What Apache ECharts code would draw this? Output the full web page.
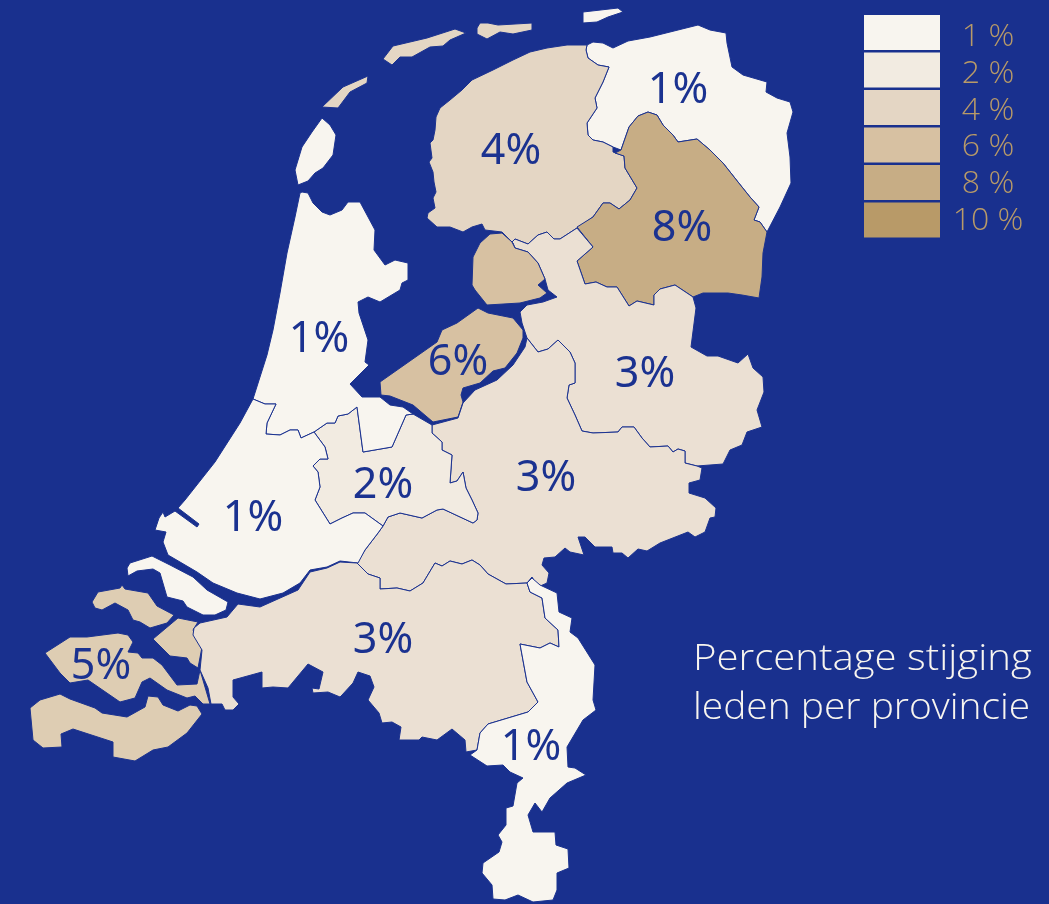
<!DOCTYPE html>
<html>
<head>
<meta charset="utf-8">
<title>Percentage stijging leden per provincie</title>
<script src="https://cdn.jsdelivr.net/npm/echarts@6/dist/echarts.min.js"></script>
<style>
  html, body { margin: 0; padding: 0; background: #19308e; }
  #chart { width: 1049px; height: 904px; }
</style>
</head>
<body>
<div id="chart"></div>
<script>
// waarden per provincie
var provinces = ['Groningen', 'Friesland', 'Drenthe', 'Overijssel', 'Flevoland', 'Gelderland', 'Utrecht', 'Noord-Holland', 'Zuid-Holland', 'Zeeland', 'Noord-Brabant', 'Limburg'];
var increase = [1, 4, 8, 3, 6, 3, 2, 1, 1, 5, 3, 1];

// legenda
var legendValues = [1, 2, 4, 6, 8, 10];
var legendColors = ['#f8f5ef', '#f2ebe1', '#e4d6c4', '#d7c1a2', '#c7ad85', '#b89a68'];

// tussenliggende klassen die wel op de kaart staan, niet in de legenda
var extraValues = [3, 5];
var extraColors = ['#ebe0d3', '#decdb3'];

var titleLines = ['Percentage stijging', 'leden per provincie'];

var bgColor = '#19308e';
var inkColor = '#1b3290';
var legendTextColor = '#b89a68';

// kaartvormen, in de coordinaten van het plaatje (1049x904)
var outlines = {
  'Groningen': [
    [[587,45],[593,42],[603,43],[613,48],[628,41],[650,37],[670,32],[698,25],[710,30],[726,33],[727,43],[732,67],[743,75],[767,82],[766,92],[777,98],[790,102],[793,112],[787,133],[790,157],[791,183],[780,207],[767,232],[760,222],[754,220],[759,207],[750,197],[738,182],[723,163],[710,150],[697,139],[678,142],[673,135],[663,125],[657,115],[648,112],[638,116],[629,127],[621,150],[613,147],[603,142],[593,140],[588,135],[587,123],[597,108],[595,98],[603,82],[609,67],[598,65],[588,58],[586,50]],
    [[583,12],[618,8],[623,12],[608,17],[597,22],[583,23]]
  ],
  'Friesland': [
    [[587,45],[567,45],[547,48],[530,52],[513,60],[493,70],[472,80],[462,90],[450,100],[440,108],[436,117],[435,130],[433,140],[430,143],[432,158],[429,162],[433,172],[434,182],[436,192],[433,198],[435,208],[428,213],[427,218],[437,227],[450,227],[463,232],[472,227],[482,224],[485,230],[502,232],[512,242],[515,239],[528,244],[538,235],[547,232],[554,239],[560,239],[577,228],[593,217],[603,203],[610,203],[619,209],[630,200],[637,188],[625,168],[624,156],[613,152],[613,147],[603,142],[593,140],[588,135],[587,123],[597,108],[595,98],[603,82],[609,67],[598,65],[588,58],[586,50]],
    [[368,76],[367,83],[350,92],[338,108],[322,107],[343,87]],
    [[455,29],[466,33],[450,40],[443,46],[430,47],[412,57],[400,57],[392,65],[383,59],[393,46],[427,38]],
    [[477,28],[480,23],[488,23],[498,25],[532,23],[532,30],[513,34],[500,32],[487,39],[477,34]]
  ],
  'Drenthe': [
    [[621,150],[629,127],[638,116],[648,112],[657,115],[663,125],[673,135],[678,142],[697,139],[710,150],[723,163],[738,182],[750,197],[759,207],[754,220],[760,222],[767,232],[763,253],[762,277],[759,298],[742,295],[728,293],[703,293],[693,297],[675,285],[660,289],[654,295],[654,305],[637,301],[629,306],[617,287],[607,287],[596,282],[585,284],[577,261],[593,247],[577,227],[593,217],[603,203],[610,203],[619,209],[630,200],[637,188],[625,168],[624,156],[615,153]]
  ],
  'Overijssel': [
    [[512,242],[515,239],[528,244],[538,235],[547,232],[554,239],[560,239],[577,228],[593,247],[577,261],[585,284],[596,282],[607,287],[617,287],[629,306],[637,301],[654,305],[654,295],[660,289],[675,285],[693,297],[696,308],[691,347],[707,356],[718,356],[738,363],[748,354],[753,368],[763,377],[764,392],[757,410],[762,427],[747,432],[742,445],[730,450],[723,464],[697,466],[685,463],[685,451],[678,449],[673,452],[668,446],[650,447],[642,438],[634,427],[622,427],[618,432],[593,433],[582,431],[575,415],[567,398],[569,385],[575,383],[575,363],[570,352],[558,340],[548,349],[538,352],[527,338],[522,323],[520,312],[527,305],[543,302],[557,297],[548,290],[545,279],[538,263],[528,252],[515,248],[513,243]]
  ],
  'Flevoland': [
    [[380,382],[437,342],[442,330],[457,323],[478,308],[488,313],[513,318],[523,330],[523,338],[517,353],[505,368],[493,371],[480,383],[463,388],[461,395],[463,402],[458,417],[433,422],[413,405],[390,396],[381,395]],
    [[502,233],[490,234],[480,243],[473,257],[472,285],[475,290],[487,305],[520,303],[540,298],[547,293],[538,285],[545,279],[538,263],[528,252],[515,248],[512,242]]
  ],
  'Gelderland': [
    [[432,425],[458,418],[463,403],[475,390],[497,380],[513,365],[525,347],[527,338],[538,352],[548,349],[558,340],[570,352],[575,363],[575,383],[569,385],[567,398],[575,415],[582,431],[593,433],[618,432],[622,427],[634,427],[642,438],[650,447],[668,446],[673,452],[678,449],[685,451],[685,463],[697,466],[702,468],[700,480],[689,483],[689,493],[705,498],[716,508],[715,517],[710,518],[705,532],[695,537],[688,532],[660,543],[647,551],[638,549],[628,558],[622,553],[613,553],[612,547],[595,547],[585,537],[578,537],[584,555],[570,552],[565,548],[555,557],[544,558],[542,565],[549,573],[547,583],[538,587],[532,577],[527,583],[506,584],[488,574],[480,565],[472,560],[462,564],[450,561],[442,566],[435,563],[423,583],[410,591],[397,588],[380,589],[380,578],[368,574],[357,563],[365,550],[378,533],[383,526],[388,517],[400,513],[422,518],[437,510],[443,509],[473,523],[477,520],[478,513],[472,500],[466,488],[463,472],[457,481],[450,483],[452,455],[442,450],[442,442],[432,433]]
  ],
  'Utrecht': [
    [[314,432],[327,423],[335,423],[338,416],[348,414],[357,407],[363,452],[392,447],[406,415],[413,414],[432,425],[432,433],[442,442],[442,450],[452,455],[450,483],[457,481],[463,472],[466,488],[472,500],[478,513],[477,520],[473,523],[443,509],[437,510],[422,518],[400,513],[388,517],[383,526],[365,513],[353,513],[342,518],[330,524],[315,500],[320,487],[318,472],[313,466],[320,459],[328,459],[325,447]]
  ],
  'Noord-Holland': [
    [[302,192],[308,193],[313,203],[322,212],[330,215],[342,210],[348,202],[360,202],[375,230],[374,250],[385,265],[395,260],[408,263],[408,280],[402,283],[400,290],[380,302],[368,297],[358,302],[359,313],[368,340],[365,362],[369,365],[350,384],[362,397],[380,397],[390,405],[403,407],[413,414],[406,415],[392,447],[363,452],[357,407],[348,414],[338,416],[335,423],[327,423],[314,432],[301,438],[298,430],[290,430],[280,435],[266,434],[267,423],[276,404],[265,404],[253,399],[267,355],[273,330],[280,293],[287,253],[295,217],[300,193]],
    [[322,118],[330,125],[336,135],[333,155],[323,168],[315,173],[308,181],[298,185],[295,170],[302,147],[312,132]]
  ],
  'Zuid-Holland': [
    [[253,399],[265,404],[276,404],[267,423],[266,434],[280,435],[290,430],[298,430],[301,438],[314,432],[325,447],[328,459],[320,459],[313,466],[318,472],[320,487],[315,500],[330,524],[342,518],[353,513],[365,513],[383,526],[378,533],[365,550],[358,563],[340,561],[327,567],[310,570],[300,583],[283,593],[260,599],[237,593],[213,583],[197,572],[180,562],[168,555],[163,542],[166,532],[155,530],[159,518],[163,512],[165,517],[175,511],[197,527],[199,524],[178,508],[185,500],[215,462],[240,423]],
    [[127,568],[130,563],[152,556],[170,565],[193,577],[207,590],[228,602],[226,610],[215,615],[203,615],[187,607],[183,601],[167,597],[160,573],[153,569],[137,571],[128,576]]
  ],
  'Zeeland': [
    [[92,602],[98,592],[120,588],[122,585],[125,589],[148,593],[157,606],[174,615],[167,623],[150,628],[140,622],[133,620],[128,610],[115,603],[102,610],[95,608]],
    [[178,618],[198,622],[193,630],[202,647],[198,668],[190,663],[187,658],[170,656],[153,639]],
    [[45,653],[70,637],[87,637],[118,633],[128,635],[133,642],[128,652],[138,653],[142,658],[153,658],[162,665],[177,685],[197,684],[200,670],[210,704],[203,704],[195,696],[187,698],[167,690],[150,678],[142,682],[135,698],[120,702],[88,680],[70,683],[60,673]],
    [[30,708],[40,700],[60,694],[70,699],[95,708],[102,713],[127,717],[145,707],[148,696],[158,697],[163,705],[178,711],[190,705],[197,706],[202,714],[187,733],[168,747],[153,750],[135,761],[113,757],[113,742],[73,729],[61,734],[62,747],[43,748],[33,740]]
  ],
  'Noord-Brabant': [
    [[200,623],[227,617],[238,604],[260,607],[298,590],[310,572],[327,568],[340,562],[357,563],[368,574],[380,578],[380,589],[397,588],[410,591],[423,583],[435,563],[442,566],[450,561],[462,564],[472,560],[480,565],[488,574],[506,584],[527,583],[530,592],[542,598],[545,618],[558,630],[559,647],[550,643],[540,648],[520,644],[527,682],[538,702],[528,712],[488,724],[480,733],[477,750],[466,752],[465,740],[452,729],[437,740],[422,737],[419,740],[399,740],[401,727],[392,722],[382,723],[379,713],[368,700],[374,687],[370,676],[358,672],[353,683],[342,695],[340,697],[328,692],[313,693],[312,688],[319,689],[323,672],[308,664],[288,688],[273,687],[262,688],[262,672],[233,680],[233,697],[239,704],[233,710],[225,710],[222,704],[211,704],[208,688],[200,670],[202,650],[193,635],[194,628]]
  ],
  'Limburg': [
    [[532,578],[540,585],[557,593],[559,612],[572,618],[570,632],[578,638],[595,665],[593,700],[596,710],[583,720],[567,747],[568,767],[575,768],[586,775],[567,783],[550,798],[542,812],[535,803],[528,815],[533,832],[555,832],[556,845],[568,849],[569,868],[557,873],[557,890],[553,900],[533,902],[518,895],[505,900],[493,899],[492,885],[482,873],[483,863],[499,852],[502,842],[498,835],[506,825],[506,808],[513,806],[517,783],[523,778],[510,772],[503,765],[487,766],[470,755],[477,750],[480,733],[488,724],[528,712],[538,702],[527,682],[520,644],[540,648],[550,643],[559,647],[558,630],[545,618],[542,598],[530,592],[527,583]]
  ]
};

// plek van het percentage per provincie
var labelSpots = {
  'Groningen': [678, 91], 'Friesland': [511, 152], 'Drenthe': [682, 229], 'Overijssel': [645, 375],
  'Flevoland': [458, 363], 'Gelderland': [546, 479], 'Utrecht': [383, 486], 'Noord-Holland': [319, 340],
  'Zuid-Holland': [253, 519], 'Zeeland': [101, 667], 'Noord-Brabant': [383, 641], 'Limburg': [531, 748]
};

var features = [];
for (var i = 0; i < provinces.length; i++) {
  var name = provinces[i];
  features.push({
    type: 'Feature',
    properties: { name: name, cp: labelSpots[name] },
    geometry: {
      type: 'MultiPolygon',
      coordinates: outlines[name].map(function (ring) {
        return [ring.concat([ring[0]])];
      })
    }
  });
}
echarts.registerMap('nederland', { type: 'FeatureCollection', features: features });

var pieces = [];
legendValues.forEach(function (v, i) { pieces.push({ value: v, color: legendColors[i] }); });
extraValues.forEach(function (v, i) { pieces.push({ value: v, color: extraColors[i] }); });

var seriesData = provinces.map(function (n, i) {
  return { name: n, value: increase[i] };
});

// legenda blokjes rechtsboven
var graphicItems = [];
legendValues.forEach(function (v, i) {
  var y = 15 + i * 37.5;
  graphicItems.push({
    type: 'rect',
    shape: { x: 864, y: y, width: 76, height: 35 },
    style: { fill: legendColors[i] },
    silent: true
  });
  graphicItems.push({
    type: 'text',
    x: 988,
    y: 37 + i * 36.7,
    style: {
      text: v + ' %',
      fill: legendTextColor,
      font: '300 32px "Open Sans"',
      align: 'center',
      verticalAlign: 'middle'
    },
    silent: true
  });
});

// titel is in het origineel wat breder gespatieerd, vandaar de scaleX
var titleStretch = [1.085, 1.052];
titleLines.forEach(function (line, i) {
  graphicItems.push({
    type: 'text',
    x: 693,
    y: 659 + i * 49,
    scaleX: titleStretch[i],
    style: {
      text: line,
      fill: '#f8f5ef',
      font: '300 37px "Open Sans"',
      align: 'left',
      verticalAlign: 'middle'
    },
    silent: true
  });
});

var myChart = echarts.init(document.getElementById('chart'), null, { renderer: 'canvas' });
myChart.setOption({
  backgroundColor: bgColor,
  animation: false,
  visualMap: {
    show: false,
    type: 'piecewise',
    seriesIndex: 0,
    pieces: pieces
  },
  graphic: graphicItems,
  series: [
    {
      type: 'map',
      map: 'nederland',
      projection: {
        project: function (p) { return p; },
        unproject: function (p) { return p; }
      },
      boundingCoords: [[0, 0], [1049, 904]],
      left: 0,
      top: 0,
      width: 1049,
      height: 904,
      roam: false,
      silent: true,
      label: {
        show: true,
        formatter: '{c}%',
        color: inkColor,
        fontFamily: 'Noto Sans',
        fontSize: 43
      },
      itemStyle: { borderColor: inkColor, borderWidth: 1 },
      emphasis: { disabled: true },
      data: seriesData
    }
  ]
});
</script>
</body>
</html>
